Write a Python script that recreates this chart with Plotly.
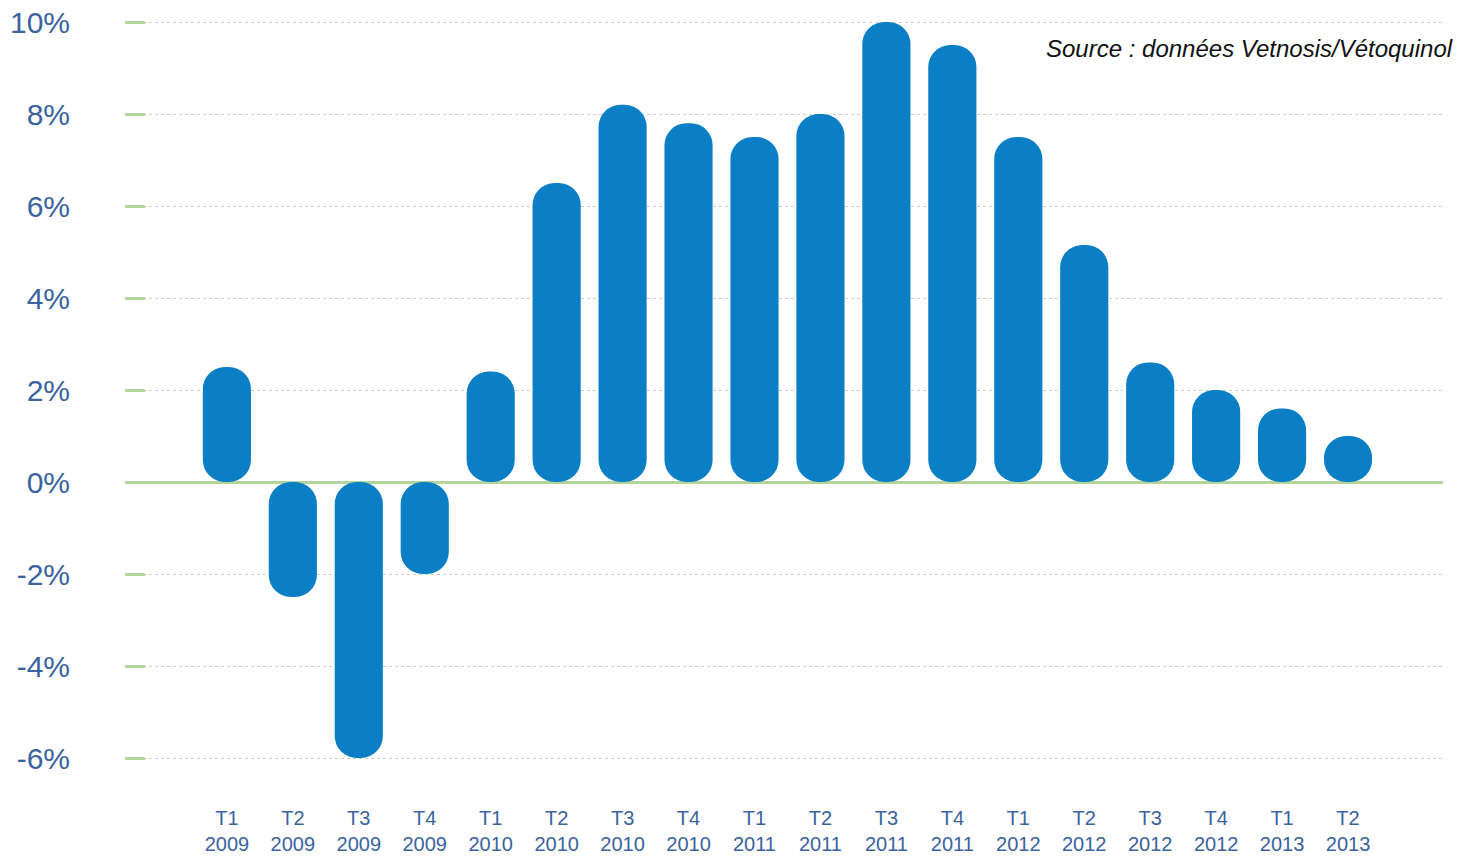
import plotly.graph_objects as go

quarters = ["T1", "T2", "T3", "T4", "T1", "T2", "T3", "T4", "T1", "T2", "T3", "T4",
            "T1", "T2", "T3", "T4", "T1", "T2"]
years = ["2009", "2009", "2009", "2009", "2010", "2010", "2010", "2010", "2011", "2011",
         "2011", "2011", "2012", "2012", "2012", "2012", "2013", "2013"]
growth = [2.5, -2.5, -6.0, -2.0, 2.4, 6.5, 8.2, 7.8, 7.5, 8.0, 10.0, 9.5,
          7.5, 5.15, 2.6, 2.0, 1.6, 1.0]
y_ticks = [-6, -4, -2, 0, 2, 4, 6, 8, 10]
y_tick_labels = [f"{v}%" for v in y_ticks]
source_text = "Source : données Vetnosis/Vétoquinol"

labels = [f"{q}<br>{y}" for q, y in zip(quarters, years)]
bar_color = "#0a7fc6"
label_color = "#3a63a0"
font_family = "Liberation Sans, Arial, sans-serif"

fig = go.Figure()
fig.add_trace(go.Bar(
    x=labels, y=growth, base=[0] * len(growth),
    marker=dict(color=bar_color, cornerradius=22, line=dict(width=0)),
    hoverinfo="skip", showlegend=False,
))

n = len(labels)
fig.update_layout(
    width=1458, height=856,
    margin=dict(l=125, r=15, t=10, b=66, autoexpand=False),
    paper_bgcolor="white", plot_bgcolor="white",
    barmode="overlay", bargap=0.27,
    font=dict(family=font_family, color=label_color),
    xaxis=dict(
        type="category", range=[-1.545, n - 0.5 + 0.94], automargin=False,
        showgrid=False, showline=False, zeroline=False, ticks="",
        tickfont=dict(size=20, color=label_color), ticklabelstandoff=14,
    ),
    yaxis=dict(
        range=[-(790 - 482) / 46, (482 - 10) / 46], automargin=False,
        tickvals=y_ticks, ticktext=y_tick_labels,
        tickfont=dict(size=30, color=label_color),
        showgrid=True, gridcolor="#c6cfc2", gridwidth=1, griddash="3px,3px",
        zeroline=True, zerolinecolor="#b3d49b", zerolinewidth=3,
        ticks="inside", ticklen=20, tickcolor="#b3d49b", tickwidth=3,
        showline=False, ticklabelstandoff=54,
    ),
    annotations=[dict(
        text=source_text, xref="paper", yref="paper",
        x=(1455 - 125) / 1318, y=(790 - 48) / 780,
        xanchor="right", yanchor="middle", showarrow=False,
        font=dict(size=24, color="#111111", family=font_family, style="italic"),
    )],
)

fig.write_html("out.html", config={"displayModeBar": False},
               post_script="document.body.style.margin='0';document.body.style.overflow='hidden';")
